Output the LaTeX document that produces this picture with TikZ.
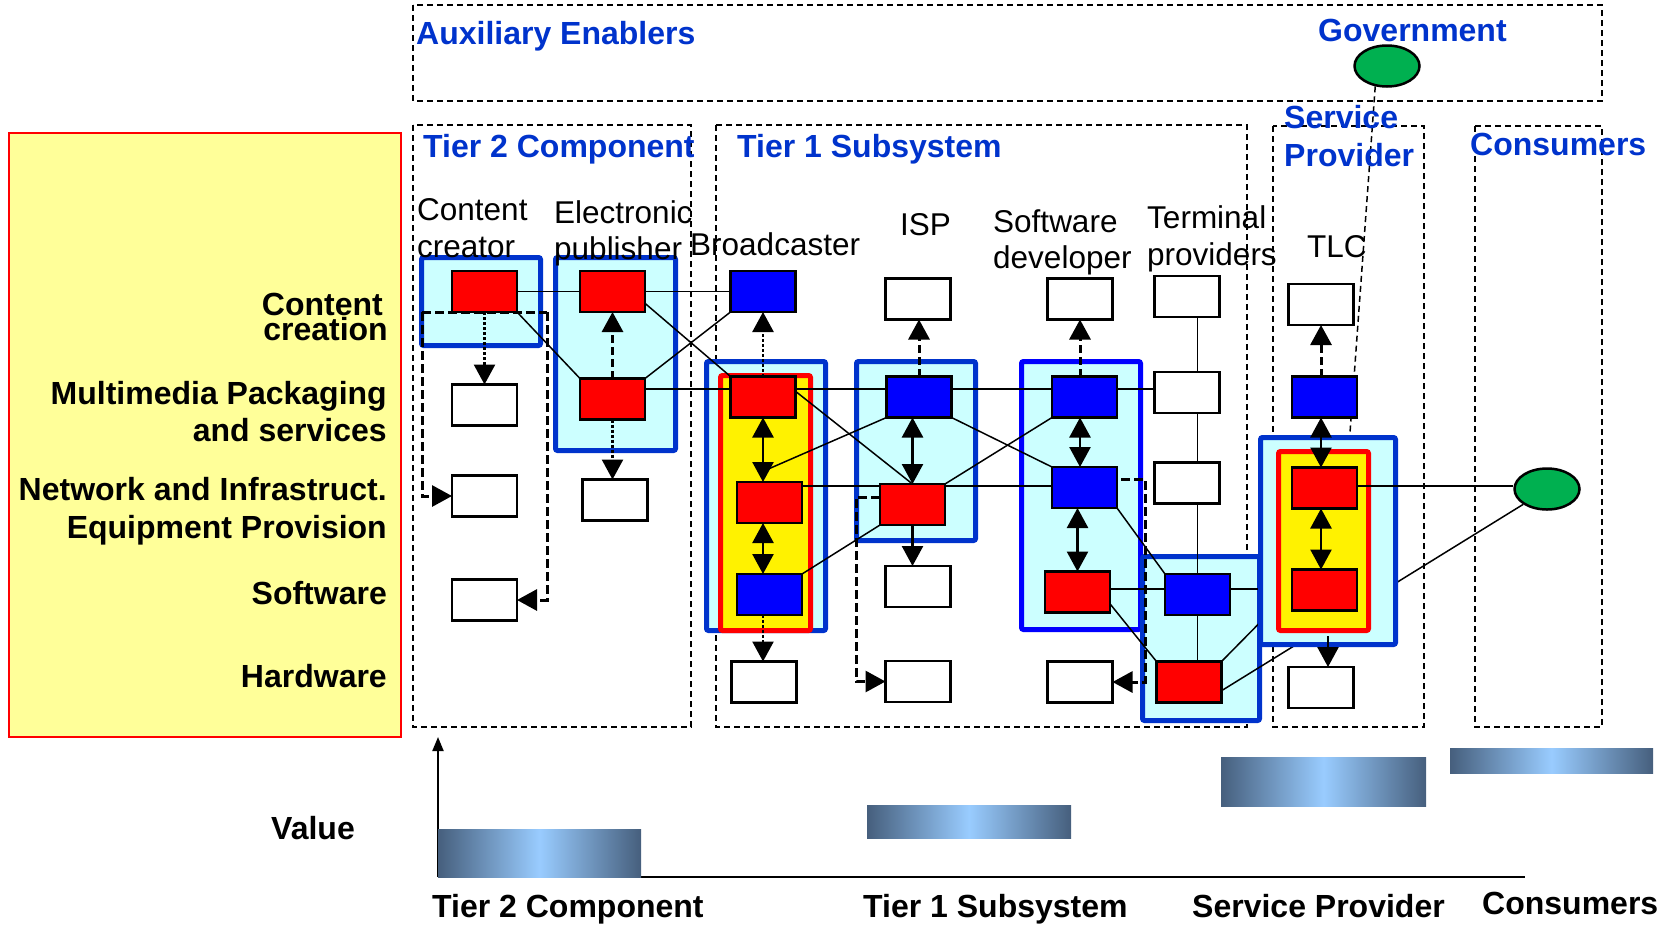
\documentclass[tikz,border=0pt]{standalone}
\usepackage{fontspec}
\setmainfont{Liberation Sans}
\usetikzlibrary{arrows.meta,shapes.geometric,calc}
\pgfdeclarelayer{bg}
\pgfdeclarelayer{cont}
\pgfdeclarelayer{under}
\pgfdeclarelayer{spc}
\pgfdeclarelayer{lines}
\pgfdeclarelayer{top}
\pgfsetlayers{bg,cont,under,spc,lines,main,top}
\definecolor{tblue}{RGB}{0,51,204}
\definecolor{bblue}{RGB}{0,0,255}
\definecolor{cyanf}{RGB}{204,255,255}
\definecolor{legy}{RGB}{255,255,153}
\definecolor{ygreen}{RGB}{0,176,80}
\definecolor{bardark}{RGB}{70,95,125}
\definecolor{barlight}{RGB}{153,204,255}
\begin{document}
\begin{tikzpicture}[x=1pt,y=-1pt,
  box/.style={draw=black,line width=2.5pt,minimum width=65pt,minimum height=41pt,inner sep=0pt,outer sep=0pt},
  rbox/.style={box,fill=red},
  bbox/.style={box,fill=bblue},
  wbox/.style={box,fill=white},
  contbox/.style={draw=tblue,line width=5pt,fill=cyanf,rounded corners=2pt},
  ycontbox/.style={draw=red,line width=5pt,fill=yellow,rounded corners=2pt},
  zonebox/.style={draw=black,line width=1.5pt,dash pattern=on 6pt off 4pt},
  conn/.style={draw=black,line width=1.5pt},
  arr/.style={-{Triangle[length=20pt,width=21pt]}},
  darr/.style={{Triangle[length=20pt,width=21pt]}-{Triangle[length=20pt,width=21pt]}},
  dotarr/.style={line width=2.5pt,dash pattern=on 3pt off 2pt,arr},
  dasharr/.style={line width=3pt,dash pattern=on 8pt off 4pt,arr},
  solarr/.style={line width=2.5pt,arr},
  dblarr/.style={line width=2.5pt,darr},
  thickdash/.style={line width=3pt,dash pattern=on 9pt off 4pt},
  hdr/.style={text=tblue,font=\bfseries\fontsize{32}{38}\selectfont,inner sep=0pt,anchor=base west},
  lbl/.style={font=\fontsize{31.5}{37}\selectfont,inner sep=0pt,anchor=base west},
  lgd/.style={font=\bfseries\fontsize{32}{38}\selectfont,inner sep=0pt,anchor=base east},
  axlbl/.style={font=\bfseries\fontsize{32}{38}\selectfont,inner sep=0pt,anchor=base west},
  barshade/.style={left color=bardark,right color=bardark,middle color=barlight},
  ell/.style={ellipse,draw=black,line width=2.5pt,fill=ygreen,minimum width=65pt,minimum height=41pt,inner sep=0pt}
]
\useasboundingbox (0,0) rectangle (1661,930);

% ---------- boxes (main layer) ----------
\node[rbox] (cc1) at (484.5,291.5) {};
\node[wbox] (cc2) at (484.5,405) {};
\node[wbox] (cc3) at (484.5,496) {};
\node[wbox] (cc4) at (484.5,600) {};
\node[rbox] (ep1) at (612.5,291.5) {};
\node[rbox] (ep2) at (612.5,399) {};
\node[wbox] (ep3) at (615,500) {};
\node[bbox] (bc1) at (763,291.5) {};
\node[rbox] (bc2) at (763,397) {};
\node[rbox] (bc3) at (769.5,502.5) {};
\node[bbox] (bc4) at (769.5,594.5) {};
\node[wbox] (bc5) at (764,682) {};
\node[wbox] (isp1) at (918,299) {};
\node[bbox] (isp2) at (919,397) {};
\node[rbox] (isp3) at (912.5,504.5) {};
\node[wbox] (isp4) at (918,586.5) {};
\node[wbox] (isp5) at (918,681.5) {};
\node[wbox] (sd1) at (1080,299) {};
\node[bbox] (sd2) at (1084.5,397) {};
\node[bbox] (sd3) at (1084.5,487.5) {};
\node[rbox] (sd4) at (1077.5,592) {};
\node[wbox] (sd5) at (1080,682) {};
\node[wbox] (tp1) at (1187,296.5) {};
\node[wbox] (tp2) at (1187,392.5) {};
\node[wbox] (tp3) at (1187,483) {};
\node[bbox] (tp4) at (1197.5,594.5) {};
\node[rbox] (tp5) at (1189,682) {};
\node[wbox] (tl1) at (1321,304.5) {};
\node[bbox] (tl2) at (1324.5,397) {};
\node[rbox] (tl3) at (1324.5,488) {};
\node[rbox] (tl4) at (1324.5,590) {};
\node[wbox] (tl5) at (1321,687.5) {};
\node[ell] (gov) at (1387,66) {};
\node[ell] (cons) at (1547,489) {};

% ---------- background: legend, zones, value chart ----------
\begin{pgfonlayer}{bg}
\draw[draw=red,line width=2pt,fill=legy] (9,133) rectangle (401,737);
\draw[zonebox] (413,5) rectangle (1602,101);
\draw[zonebox] (413,125) rectangle (691,727);
\draw[zonebox] (716,125) rectangle (1247,727);
\draw[zonebox] (1273,126) rectangle (1424,727);
\draw[zonebox] (1475,126) rectangle (1602,727);
\coordinate (vo) at (438,877);
\coordinate (vt) at (438,737);
\coordinate (ve) at (1525,877);
\draw[line width=2pt,-{Triangle[length=14pt,width=11pt]}] (vo) -- (vt);
\draw[line width=2.5pt] (vo) -- (ve);
\shade[barshade] (438,829) rectangle (641,877);
\shade[barshade] (867,805) rectangle (1071,838);
\shade[barshade] (1221,757) rectangle (1426,806);
\shade[barshade] (1450,748) rectangle (1653,773);
\end{pgfonlayer}

% ---------- containers ----------
\begin{pgfonlayer}{cont}
\draw[contbox] (421.5,257.5) rectangle (540.5,345.5);
\draw[contbox] (555.5,257.5) rectangle (675.5,450.5);
\draw[contbox] (706.5,361.5) rectangle (825.5,630.5);
\draw[ycontbox] (720.5,375.5) rectangle (810.5,630.5);
\draw[contbox] (856.5,361.5) rectangle (975.5,540.5);
\draw[contbox,draw=bblue] (1021.5,361.5) rectangle (1140.5,629.5);
\draw[contbox] (1142.5,556.5) rectangle (1259.5,720.5);
\end{pgfonlayer}

% ---------- lines hidden under the service provider block ----------
\begin{pgfonlayer}{under}
\coordinate (r4) at (0,589);
\draw[conn] (sd4.east |- r4) -- (tl4.west |- r4);
\draw[conn] (tp5.north east) -- (tl4.west);
\draw[conn] (tp5.-15) -- (cons.south west);
\coordinate (gend) at (1348,460);
\draw[zonebox] (gov.-120) -- (gend);
\end{pgfonlayer}

\begin{pgfonlayer}{spc}
\draw[contbox] (1260.5,437.5) rectangle (1395.5,644.5);
\draw[ycontbox] (1278.5,451.5) rectangle (1368.5,630.5);
\end{pgfonlayer}

% ---------- connectors ----------
\begin{pgfonlayer}{lines}
\coordinate (r2) at (0,389);
\coordinate (r3) at (0,486);
\draw[conn] (cc1.east) -- (ep1.west);
\draw[conn] (ep1.east) -- (bc1.west);
\draw[conn] (cc1.south east) -- (ep2.north west);
\draw[conn] (ep1.-20) -- (bc2.north west);
\draw[conn] (ep2.north east) -- (bc1.south west);
\draw[conn] (ep2.east |- r2) -- (tp2.west |- r2);
\draw[conn] (bc2.10) -- (isp3.north);
\coordinate (bcx) at (766,470);
\draw[conn] (isp2.south west) -- (bcx);
\draw[conn] (isp3.north east) -- (sd2.south west);
\draw[conn] (isp2.south east) -- (sd3.north west);
\draw[conn] (bc3.east |- r3) -- (sd3.west |- r3);
\draw[conn] (bc4.north east) -- (isp3.south west);
\draw[conn] (sd3.south east) -- (tp4.north west);
\draw[conn] (sd4.-20) -- (tp5.north west);
\draw[conn] (tp4 |- tp1.south) -- (tp4 |- tp5.north);
\draw[conn] (tl3.east |- r3) -- (cons.west |- r3);
% dashed L paths
\coordinate (cl) at (422,312);
\coordinate (cr) at (547,312);
\draw[thickdash] (cl) -- (cr);
\draw[thickdash,arr] (cl) |- (cc3.west);
\draw[thickdash,arr] (cr) |- (cc4.east);
\coordinate (il) at (856,497);
\draw[thickdash,arr] (isp3.west |- il) -- (il) |- (isp5.west);
\coordinate (sl) at (1145,479);
\draw[thickdash,arr] ([xshift=4pt]sd3.east |- sl) -- (sl) |- (sd5.east);
\end{pgfonlayer}

% ---------- arrows and texts ----------
\begin{pgfonlayer}{top}
\draw[dotarr] (cc1.south) -- (cc2.north);
\draw[dasharr] (ep2.north) -- (ep1.south);
\draw[dotarr] (ep2.south) -- (ep2.south |- ep3.north);
\draw[dotarr] (bc2.north) -- (bc1.south);
\draw[dblarr] (bc2.south) -- (bc2.south |- bc3.north);
\draw[dblarr] (bc2.south |- bc3.south) -- (bc2.south |- bc4.north);
\draw[dotarr] (bc2 |- bc4.south) -- (bc2 |- bc5.north);
\draw[dasharr] (isp2.north) -- (isp2.north |- isp1.south);
\draw[dblarr] (isp3.north |- isp2.south) -- (isp3.north);
\draw[solarr] (isp3.south) -- (isp3.south |- isp4.north);
\draw[dasharr] (sd1 |- sd2.north) -- (sd1.south);
\draw[dblarr] (sd1 |- sd2.south) -- (sd1 |- sd3.north);
\draw[dblarr] (sd4.north |- sd3.south) -- (sd4.north);
\draw[dasharr] (tl1 |- tl2.north) -- (tl1.south);
\draw[dblarr] (tl1 |- tl2.south) -- (tl1 |- tl3.north);
\draw[dblarr] (tl1 |- tl3.south) -- (tl1 |- tl4.north);
\coordinate (ts) at (1328,636);
\draw[solarr] (ts) -- (ts |- tl5.north);

% headers
\node[hdr] (haux) at (416,44) {Auxiliary Enablers};
\node[hdr] (hgov) at (1318,41) {Government};
\node[hdr] (ht2) at (423,157) {Tier 2 Component};
\node[hdr] (ht1) at (737,157) {Tier 1 Subsystem};
\node[hdr] (hsp1) at (1284,128) {Service};
\node[hdr] (hsp2) at (1284,166) {Provider};
\node[hdr] (hcons) at (1470,155) {Consumers};
% labels
\node[lbl] (lcc1) at (417,220) {Content};
\node[lbl] (lcc2) at (417,257) {creator};
\node[lbl] (lep1) at (554,223) {Electronic};
\node[lbl] (lep2) at (554,259) {publisher};
\node[lbl] (lbc) at (690,255) {Broadcaster};
\node[lbl] (lisp) at (900,235) {ISP};
\node[lbl] (lsd1) at (993,232) {Software};
\node[lbl] (lsd2) at (993,268) {developer};
\node[lbl] (ltp1) at (1147,228) {Terminal};
\node[lbl] (ltp2) at (1147,265) {providers};
\node[lbl] (ltlc) at (1307,257) {TLC};
% legend
\node[lgd] (g1a) at (383,315) {Content};
\node[lgd] (g1b) at (388,340) {creation};
\node[lgd] (g2a) at (387,404) {Multimedia Packaging};
\node[lgd] (g2b) at (387,441) {and services};
\node[lgd] (g3a) at (387,500) {Network and Infrastruct.};
\node[lgd] (g3b) at (387,538) {Equipment Provision};
\node[lgd] (g4) at (387,604) {Software};
\node[lgd] (g5) at (387,687) {Hardware};
% value chart labels
\node[axlbl] (vval) at (271,839) {Value};
\node[axlbl] (vt2) at (432,917) {Tier 2 Component};
\node[axlbl] (vt1) at (863,917) {Tier 1 Subsystem};
\node[axlbl] (vsp) at (1192,917) {Service Provider};
\node[axlbl] (vco) at (1482,914) {Consumers};
\end{pgfonlayer}
\end{tikzpicture}
\end{document}
